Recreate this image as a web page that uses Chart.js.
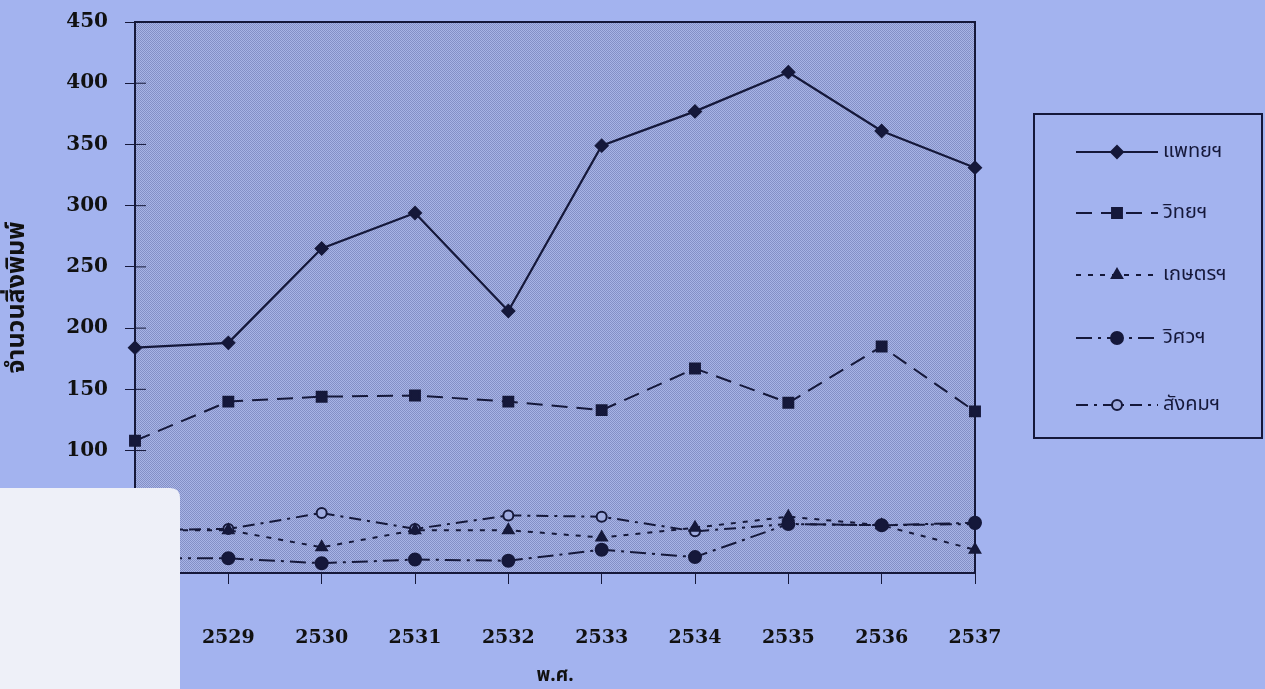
<!DOCTYPE html>
<html>
<head>
<meta charset="utf-8">
<script src="https://cdn.jsdelivr.net/npm/chart.js@4.4.1/dist/chart.umd.min.js"></script>
<style>
  html, body { margin: 0; padding: 0; background: #a3b3ef; }
  #wrap { width: 1265px; height: 689px; position: relative; }
</style>
</head>
<body>
<div id="wrap"><canvas id="c" width="1265" height="689"></canvas></div>
<script>
// Publications per year (Buddhist Era), by faculty
const years = ['2528', '2529', '2530', '2531', '2532', '2533', '2534', '2535', '2536', '2537'];
const medicine    = [184, 188, 265, 294, 214, 349, 377, 409, 361, 331];
const science     = [108, 140, 144, 145, 140, 133, 167, 139, 185, 132];
const agriculture = [35, 35, 21, 35, 35, 29, 37, 46, 39, 19];
const engineering = [12, 12, 8, 11, 10, 19, 13, 40, 39, 41];
const social      = [35, 36, 49, 36, 47, 46, 34, 40, 39, 40];
const seriesNames = ['แพทยฯ', 'วิทยฯ', 'เกษตรฯ', 'วิศวฯ', 'สังคมฯ'];
const yTicks = [0, 50, 100, 150, 200, 250, 300, 350, 400, 450];

const INK = '#15183a';
const THAI = '"Noto Sans Thai", "Noto Sans", "DejaVu Sans", sans-serif';
const SERIF = '"DejaVu Serif", "Liberation Serif", serif';

// stippled fill for the plotting area
function makeStipple(ctx) {
  const p = document.createElement('canvas');
  p.width = 2; p.height = 2;
  const g = p.getContext('2d');
  g.fillStyle = 'rgb(168,180,230)'; g.fillRect(0, 0, 2, 2);
  g.fillStyle = 'rgb(132,144,198)'; g.fillRect(0, 0, 1, 1); g.fillRect(1, 1, 1, 1);
  return ctx.createPattern(p, 'repeat');
}

const plotFrame = {
  id: 'plotFrame',
  beforeDatasetsDraw(chart) {
    const { ctx, chartArea: a, scales } = chart;
    ctx.save();
    ctx.fillStyle = makeStipple(ctx);
    ctx.fillRect(a.left, a.top, a.right - a.left, a.bottom - a.top);
    ctx.strokeStyle = INK;
    ctx.lineWidth = 2;
    ctx.strokeRect(a.left, a.top, a.right - a.left, a.bottom - a.top);
    // short inner tick marks on the value axis
    ctx.lineWidth = 1;
    yTicks.forEach(v => {
      const y = scales.y.getPixelForValue(v);
      ctx.beginPath(); ctx.moveTo(a.left, y); ctx.lineTo(a.left + 11, y); ctx.stroke();
    });
    ctx.restore();
  }
};

const sideLegend = {
  id: 'sideLegend',
  afterDraw(chart) {
    const { ctx } = chart;
    const box = { x: 1034, y: 114, w: 228, h: 324 };
    const rows = [152, 213, 275, 338, 405];
    ctx.save();
    ctx.strokeStyle = INK;
    ctx.lineWidth = 2;
    ctx.strokeRect(box.x, box.y, box.w, box.h);
    chart.data.datasets.forEach((ds, i) => {
      const y = rows[i];
      ctx.strokeStyle = INK;
      ctx.lineWidth = ds.borderWidth;
      ctx.setLineDash(ds.borderDash || []);
      ctx.beginPath(); ctx.moveTo(1076, y); ctx.lineTo(1158, y); ctx.stroke();
      ctx.setLineDash([]);
      ctx.fillStyle = ds.pointBackgroundColor;
      ctx.strokeStyle = INK;
      ctx.lineWidth = ds.pointBorderWidth;
      Chart.helpers.drawPoint(ctx, {
        pointStyle: ds.pointStyle, radius: ds.pointRadius, rotation: 0,
        borderWidth: ds.pointBorderWidth
      }, 1117, y);
      ctx.fillStyle = INK;
      ctx.font = '20px ' + THAI;
      ctx.textBaseline = 'middle';
      ctx.textAlign = 'left';
      ctx.fillText(ds.label, 1163, y + 1);
    });
    ctx.restore();
  }
};

// pale paper patch laid over the lower-left corner
const cornerPatch = {
  id: 'cornerPatch',
  afterDraw(chart) {
    const { ctx } = chart;
    ctx.save();
    ctx.fillStyle = '#eef0f8';
    ctx.beginPath();
    ctx.moveTo(0, 488);
    ctx.lineTo(170, 488);
    ctx.quadraticCurveTo(180, 488, 180, 498);
    ctx.lineTo(180, 689);
    ctx.lineTo(0, 689);
    ctx.closePath();
    ctx.fill();
    ctx.restore();
  }
};

function lineSet(label, data, dash, style, radius, fill, width) {
  return {
    label, data,
    borderColor: INK,
    borderWidth: width,
    borderDash: dash,
    pointStyle: style,
    pointRadius: radius,
    pointHoverRadius: radius,
    pointBackgroundColor: fill,
    pointBorderColor: INK,
    pointBorderWidth: 2,
    tension: 0,
    clip: false,
    fill: false
  };
}

new Chart(document.getElementById('c'), {
  type: 'line',
  data: {
    labels: years,
    datasets: [
      lineSet(seriesNames[0], medicine, [], 'rectRot', 6, INK, 2.2),
      lineSet(seriesNames[1], science, [16, 9], 'rect', 7, INK, 2),
      lineSet(seriesNames[2], agriculture, [5, 7], 'triangle', 6, INK, 2),
      lineSet(seriesNames[3], engineering, [16, 6, 3, 6], 'circle', 6, INK, 2),
      lineSet(seriesNames[4], social, [12, 6, 3, 6], 'circle', 5, 'rgba(160,172,224,1)', 2)
    ]
  },
  options: {
    responsive: false,
    animation: false,
    events: [],
    layout: { padding: { top: 22, right: 290, bottom: 0, left: 0 } },
    plugins: { legend: { display: false }, tooltip: { enabled: false } },
    scales: {
      x: {
        type: 'category',
        offset: false,
        grid: { drawOnChartArea: false, tickLength: 11, color: INK, lineWidth: 1 },
        border: { display: true, color: INK, width: 2 },
        ticks: { color: '#111', padding: 43, maxRotation: 0, autoSkip: false,
                 font: { family: SERIF, size: 19, weight: 'bold' } },
        title: { display: true, text: 'พ.ศ.', color: '#111',
                 font: { family: THAI, size: 19, weight: 'bold' },
                 padding: { top: 0, bottom: 0 } },
        afterFit(s) { s.height = 116; s.paddingLeft = 0; s.paddingRight = 0; }
      },
      y: {
        min: 0, max: 450,
        afterBuildTicks(s) { s.ticks = yTicks.map(v => ({ value: v })); },
        grid: { drawOnChartArea: false, tickLength: 10, color: INK, lineWidth: 1 },
        border: { display: true, color: INK, width: 2 },
        ticks: { color: '#111', padding: 17,
                 font: { family: SERIF, size: 20, weight: 'bold' } },
        title: { display: true, text: 'จำนวนสิ่งพิมพ์', color: '#111',
                 font: { family: THAI, size: 25, weight: 'bold' },
                 padding: { top: 4, bottom: 0 } },
        afterFit(s) { s.width = 135; s.paddingTop = 0; s.paddingBottom = 0; }
      }
    }
  },
  plugins: [plotFrame, sideLegend, cornerPatch]
});
</script>
</body>
</html>
